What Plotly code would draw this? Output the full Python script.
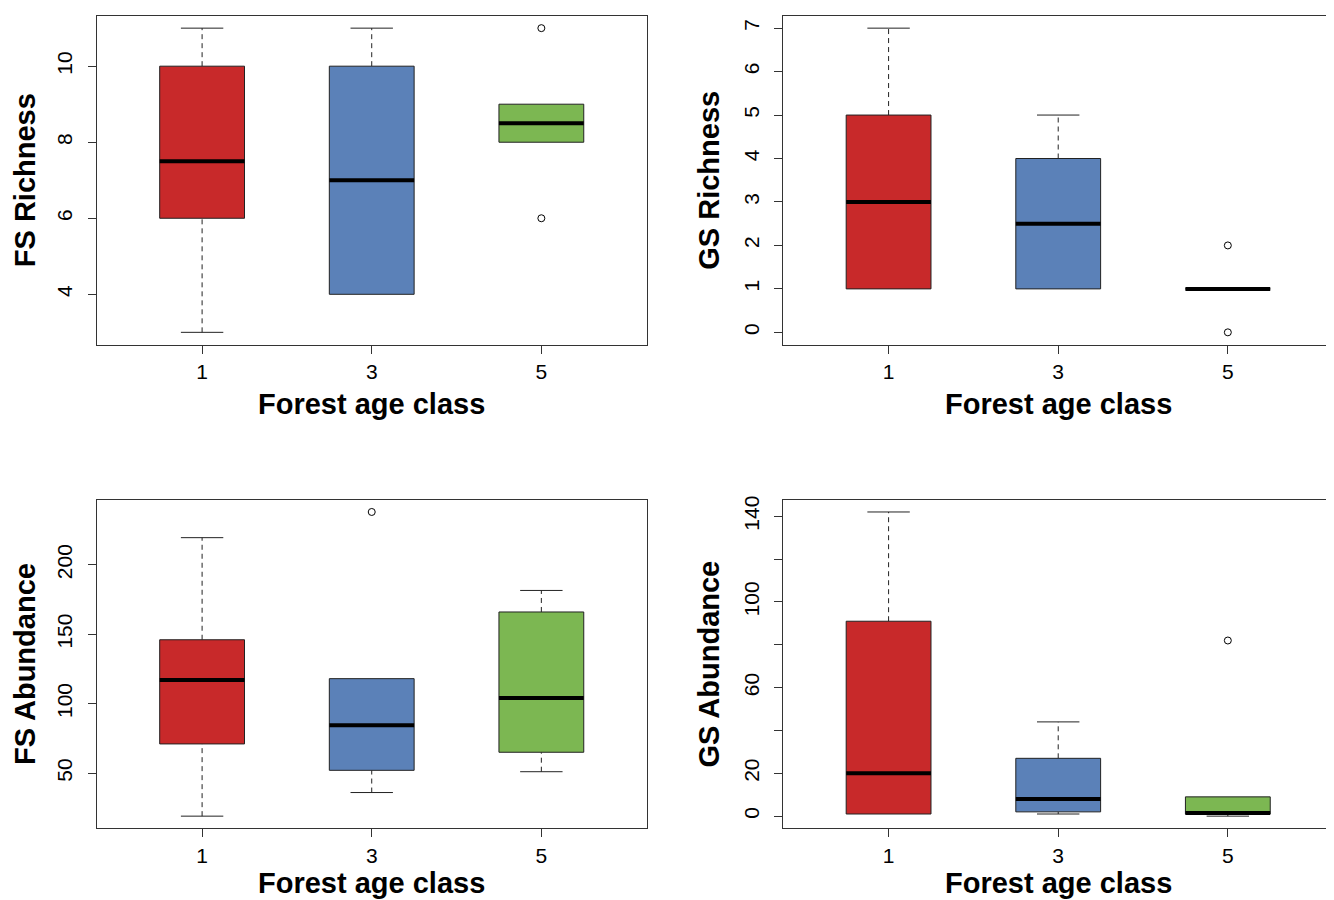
import plotly.graph_objects as go

# ---------------- data ----------------
groups = ["1", "3", "5"]
box_colors = ["#C8292A", "#5B81B8", "#7CB752"]

fs_rich_low = [3, 4, 8]
fs_rich_q1 = [6, 4, 8]
fs_rich_med = [7.5, 7, 8.5]
fs_rich_q3 = [10, 10, 9]
fs_rich_high = [11, 11, 9]
fs_rich_out = [[], [], [11, 6]]
fs_rich_ticks = [4, 6, 8, 10]
fs_rich_ticktext = ["4", "6", "8", "10"]

gs_rich_low = [1, 1, 1]
gs_rich_q1 = [1, 1, 1]
gs_rich_med = [3, 2.5, 1]
gs_rich_q3 = [5, 4, 1]
gs_rich_high = [7, 5, 1]
gs_rich_out = [[], [], [2, 0]]
gs_rich_ticks = [0, 1, 2, 3, 4, 5, 6, 7]
gs_rich_ticktext = ["0", "1", "2", "3", "4", "5", "6", "7"]

fs_abund_low = [19, 36, 51]
fs_abund_q1 = [71, 52, 65]
fs_abund_med = [117, 84.5, 104]
fs_abund_q3 = [146, 118, 166]
fs_abund_high = [219.5, 118, 181.5]
fs_abund_out = [[], [238], []]
fs_abund_ticks = [50, 100, 150, 200]
fs_abund_ticktext = ["50", "100", "150", "200"]

gs_abund_low = [1, 1, 0]
gs_abund_q1 = [1, 2, 1]
gs_abund_med = [20, 8, 1.5]
gs_abund_q3 = [91, 27, 9]
gs_abund_high = [142, 44, 9]
gs_abund_out = [[], [], [82]]
gs_abund_ticks = [0, 20, 40, 60, 80, 100, 120, 140]
gs_abund_ticktext = ["0", "20", "", "60", "", "100", "", "140"]

x_title = "Forest age class"

panels = [
    dict(low=fs_rich_low, q1=fs_rich_q1, med=fs_rich_med, q3=fs_rich_q3, high=fs_rich_high,
         out=fs_rich_out, ticks=fs_rich_ticks, ticktext=fs_rich_ticktext, ytitle="FS Richness", row=0, col=0),
    dict(low=gs_rich_low, q1=gs_rich_q1, med=gs_rich_med, q3=gs_rich_q3, high=gs_rich_high,
         out=gs_rich_out, ticks=gs_rich_ticks, ticktext=gs_rich_ticktext, ytitle="GS Richness", row=0, col=1),
    dict(low=fs_abund_low, q1=fs_abund_q1, med=fs_abund_med, q3=fs_abund_q3, high=fs_abund_high,
         out=fs_abund_out, ticks=fs_abund_ticks, ticktext=fs_abund_ticktext, ytitle="FS Abundance", row=1, col=0),
    dict(low=gs_abund_low, q1=gs_abund_q1, med=gs_abund_med, q3=gs_abund_q3, high=gs_abund_high,
         out=gs_abund_out, ticks=gs_abund_ticks, ticktext=gs_abund_ticktext, ytitle="GS Abundance", row=1, col=1),
]

# ---------------- layout geometry (page pixels) ----------------
OFF = 8  # browser default body margin
W, H = 1334 - OFF, 900 - OFF
cols_px = [(97, 647), (784, 1334)]
rows_px = [(12, 342), (498, 828)]
ytitle_x_px = [25, 710]

FONT = "Liberation Sans, Arial, Helvetica, sans-serif"
LINE = "#222222"
FRAME = "#333333"

fig = go.Figure()
layout = dict(
    width=W, height=H, margin=dict(l=0, r=0, t=0, b=0),
    paper_bgcolor="white", plot_bgcolor="white", showlegend=False,
    font=dict(family=FONT, color="black"),
)
annotations = []

hw = 0.25   # half box width
cw = 0.125  # half staple width

for k, p in enumerate(panels):
    n = k + 1
    xa = "x" if n == 1 else f"x{n}"
    ya = "y" if n == 1 else f"y{n}"
    pos = list(range(1, len(groups) + 1))

    # whiskers (dashed)
    wx, wy = [], []
    for i, c in enumerate(pos):
        if p["high"][i] > p["q3"][i]:
            wx += [c, c, None]; wy += [p["q3"][i], p["high"][i], None]
        if p["low"][i] < p["q1"][i]:
            wx += [c, c, None]; wy += [p["low"][i], p["q1"][i], None]
    fig.add_trace(go.Scatter(x=wx, y=wy, mode="lines", xaxis=xa, yaxis=ya,
                             line=dict(color=LINE, width=1, dash="5px,4px"), hoverinfo="skip"))
    # staples
    sx, sy = [], []
    for i, c in enumerate(pos):
        if p["high"][i] > p["q3"][i]:
            sx += [c - cw, c + cw, None]; sy += [p["high"][i], p["high"][i], None]
        if p["low"][i] < p["q1"][i]:
            sx += [c - cw, c + cw, None]; sy += [p["low"][i], p["low"][i], None]
    fig.add_trace(go.Scatter(x=sx, y=sy, mode="lines", xaxis=xa, yaxis=ya,
                             line=dict(color=LINE, width=1), hoverinfo="skip"))
    # boxes
    for i, c in enumerate(pos):
        fig.add_trace(go.Scatter(
            x=[c - hw, c + hw, c + hw, c - hw, c - hw],
            y=[p["q1"][i], p["q1"][i], p["q3"][i], p["q3"][i], p["q1"][i]],
            mode="lines", fill="toself", fillcolor=box_colors[i],
            line=dict(color=LINE, width=1), xaxis=xa, yaxis=ya, name=groups[i]))
    # medians
    mx, my = [], []
    for i, c in enumerate(pos):
        mx += [c - hw, c + hw, None]; my += [p["med"][i], p["med"][i], None]
    fig.add_trace(go.Scatter(x=mx, y=my, mode="lines", xaxis=xa, yaxis=ya,
                             line=dict(color="black", width=4), hoverinfo="skip"))
    # outliers
    ox, oy = [], []
    for i, c in enumerate(pos):
        for v in p["out"][i]:
            ox.append(c); oy.append(v)
    fig.add_trace(go.Scatter(x=ox, y=oy, mode="markers", xaxis=xa, yaxis=ya,
                             marker=dict(symbol="circle-open", size=7, color="black",
                                         line=dict(width=1, color="black"))))

    # ranges: R style 4% padding
    allv = p["low"] + p["high"] + [v for o in p["out"] for v in o]
    lo, hi = min(allv), max(allv)
    pad = (hi - lo) * 0.04
    n_g = len(groups)
    xpad = n_g * 0.04

    x0, x1 = [v - OFF for v in cols_px[p["col"]]]
    y0, y1 = [v - OFF for v in rows_px[p["row"]]]
    axis_common = dict(showline=True, mirror=True, linecolor=FRAME, linewidth=1.2,
                       ticks="outside", ticklen=8, tickwidth=1, tickcolor=FRAME,
                       showgrid=False, zeroline=False,
                       tickfont=dict(family=FONT, size=21, color="black"))
    layout["xaxis" if n == 1 else f"xaxis{n}"] = dict(
        axis_common, domain=[x0 / W, min(x1 / W, 1.0)], anchor=ya,
        range=[0.5 - xpad, n_g + 0.5 + xpad],
        tickmode="array", tickvals=pos, ticktext=groups, ticklabelstandoff=0)
    layout["yaxis" if n == 1 else f"yaxis{n}"] = dict(
        axis_common, domain=[1 - y1 / H, 1 - y0 / H], anchor=xa,
        range=[lo - pad, hi + pad],
        tickmode="array", tickvals=p["ticks"], ticktext=p["ticktext"],
        tickangle=-90, ticklabelstandoff=7)

    if p["row"] == 0:
        ty, tanchor = 1 - (402 - OFF) / H, "middle"
    else:
        ty, tanchor = 0.0, "bottom"
    annotations.append(dict(
        text=f"<b>{x_title}</b>", xref="paper", yref="paper",
        x=(x0 + x1) / 2 / W, y=ty, borderpad=0,
        xanchor="center", yanchor=tanchor, showarrow=False,
        font=dict(family=FONT, size=29, color="black")))
    annotations.append(dict(
        text=f"<b>{p['ytitle']}</b>", xref="paper", yref="paper",
        x=(ytitle_x_px[p["col"]] - OFF) / W, y=1 - (y0 + y1) / 2 / H,
        xanchor="center", yanchor="middle", textangle=-90, showarrow=False,
        font=dict(family=FONT, size=29, color="black")))

layout["annotations"] = annotations
fig.update_layout(**layout)
fig.write_html("out.html")
